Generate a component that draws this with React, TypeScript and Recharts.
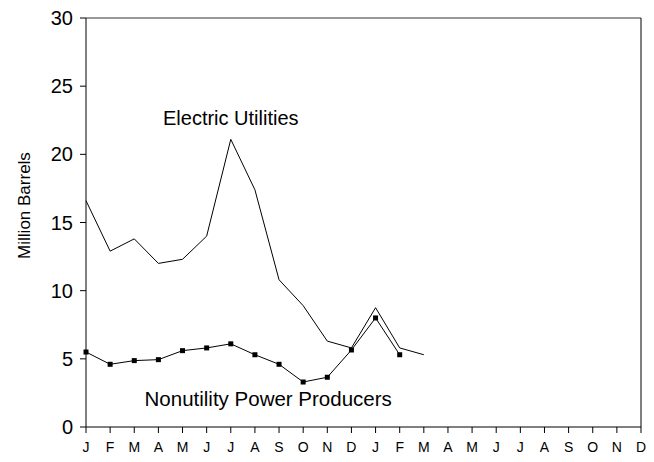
import React from 'react';
import {
  LineChart,
  Line,
  XAxis,
  YAxis,
  ReferenceDot,
  ReferenceLine,
} from 'recharts';

const months = ['J', 'F', 'M', 'A', 'M', 'J', 'J', 'A', 'S', 'O', 'N', 'D', 'J', 'F', 'M', 'A', 'M', 'J', 'J', 'A', 'S', 'O', 'N', 'D'];
const electricUtilities = [16.6, 12.9, 13.8, 12.0, 12.3, 14.0, 21.1, 17.4, 10.8, 8.9, 6.3, 5.8, 8.75, 5.8, 5.3];
const nonutilityProducers = [5.5, 4.6, 4.87, 4.94, 5.6, 5.8, 6.1, 5.3, 4.6, 3.3, 3.65, 5.65, 8.0, 5.3];
const yTicks = [0, 5, 10, 15, 20, 25, 30];

const data = months.map((m, i) => ({
  idx: i,
  month: m,
  electric: i < electricUtilities.length ? electricUtilities[i] : null,
  nonutility: i < nonutilityProducers.length ? nonutilityProducers[i] : null,
}));

const SquareDot = (props: any) => {
  const { cx, cy, value } = props;
  if (value == null || cx == null || cy == null) return null;
  return <rect x={cx - 2.5} y={cy - 2.5} width={5} height={5} fill="#000" />;
};

const YLabel = (props: any) => {
  const { viewBox } = props;
  const cx = viewBox.x + 24;
  const cy = viewBox.y + viewBox.height / 2 - 17;
  return (
    <text
      x={cx}
      y={cy}
      transform={`rotate(-90, ${cx}, ${cy})`}
      textAnchor="middle"
      dominantBaseline="central"
      style={{ fontSize: 17 }}
      fill="#000"
    >
      Million Barrels
    </text>
  );
};

export default function App() {
  return (
    <div
      style={{
        position: 'absolute',
        left: 0,
        top: 0,
        width: 654,
        height: 462,
        background: '#fff',
        fontFamily: '"Liberation Sans", Arial, sans-serif',
      }}
    >
      <LineChart width={654} height={462} data={data} margin={{ top: 18, right: 13, bottom: 5, left: 0 }}>
        <XAxis
          dataKey="idx"
          type="number"
          domain={[0, 23]}
          ticks={months.map((_, i) => i)}
          interval={0}
          tickFormatter={(i: number) => months[i]}
          tickSize={6}
          tickMargin={9}
          height={30}
          axisLine={{ stroke: '#000' }}
          tickLine={{ stroke: '#000' }}
          tick={{ fill: '#000', fontSize: 14 }}
        />
        <YAxis
          domain={[0, 30]}
          ticks={yTicks}
          interval={0}
          width={86}
          tickSize={6}
          tickMargin={7}
          axisLine={{ stroke: '#000' }}
          tickLine={{ stroke: '#000' }}
          tick={{ fill: '#000', fontSize: 20 }}
          label={<YLabel />}
        />
        <ReferenceLine y={30} stroke="#333" strokeWidth={1} ifOverflow="visible" />
        <ReferenceLine x={23} stroke="#000" strokeWidth={1} ifOverflow="visible" />
        <Line
          type="linear"
          dataKey="electric"
          stroke="#000"
          strokeWidth={1}
          dot={false}
          activeDot={false}
          isAnimationActive={false}
        />
        <Line
          type="linear"
          dataKey="nonutility"
          stroke="#000"
          strokeWidth={1}
          dot={<SquareDot />}
          activeDot={false}
          isAnimationActive={false}
        />
        <ReferenceDot
          x={6}
          y={22.7}
          r={0}
          fill="none"
          stroke="none"
          ifOverflow="visible"
          label={{ value: 'Electric Utilities', position: 'center', fontSize: 20, fill: '#000' }}
        />
        <ReferenceDot
          x={7.55}
          y={2.05}
          r={0}
          fill="none"
          stroke="none"
          ifOverflow="visible"
          label={{ value: 'Nonutility Power Producers', position: 'center', fontSize: 20.5, fill: '#000' }}
        />
      </LineChart>
    </div>
  );
}
